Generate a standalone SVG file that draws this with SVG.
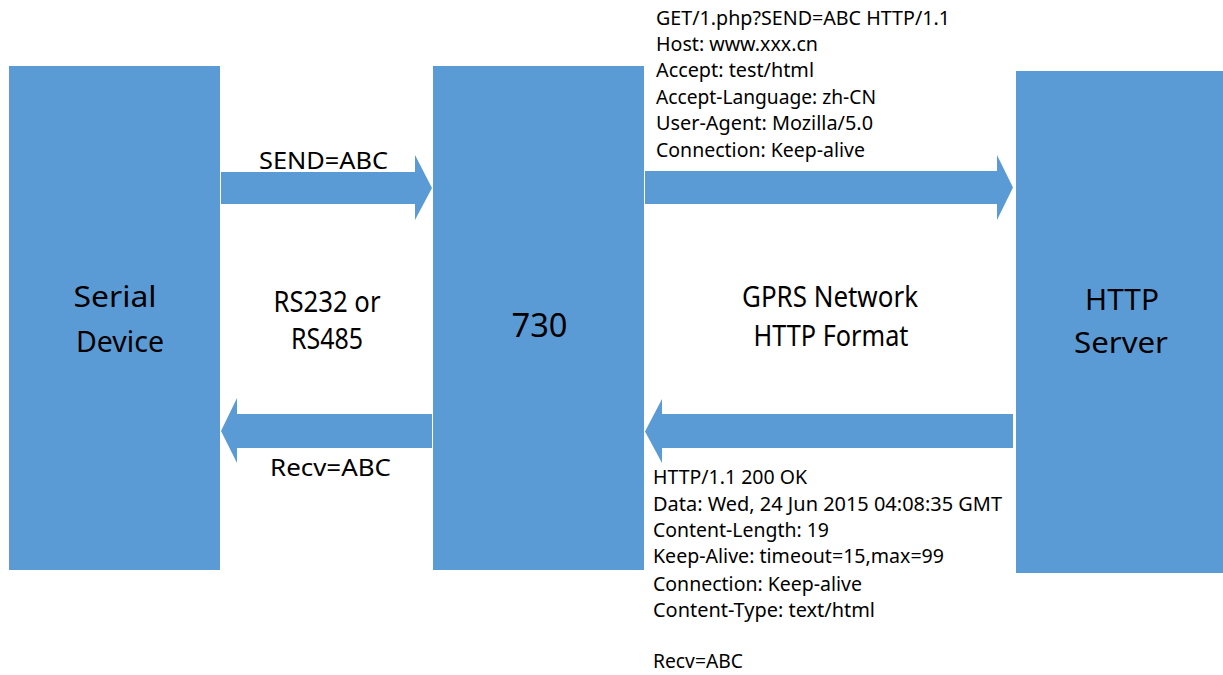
<svg xmlns="http://www.w3.org/2000/svg" width="1223" height="675" viewBox="0 0 1223 675">
<style>
.box{fill:#5B9BD5;}
.arr{fill:#5B9BD5;}
text{font-family:"Noto Sans","Open Sans","Liberation Sans",sans-serif;fill:#000;}
.big{font-size:29.5px;text-anchor:middle;}
.mid{font-size:23.4px;}
.sm{font-size:19.6px;}
</style>
<rect x="0" y="0" width="1223" height="675" fill="#fff"/>
<g id="serial-device">
<rect class="box" x="9" y="66" width="211" height="504"/>
<text class="big" x="115" y="307" textLength="83" lengthAdjust="spacingAndGlyphs">Serial</text>
<text class="big" x="120" y="352" textLength="88" lengthAdjust="spacingAndGlyphs">Device</text>
</g>
<g id="n730">
<rect class="box" x="433" y="66" width="211" height="504"/>
<text class="big" x="539.5" y="337" style="font-size:32.5px" textLength="56" lengthAdjust="spacingAndGlyphs">730</text>
</g>
<g id="http-server">
<rect class="box" x="1016" y="71" width="207" height="502"/>
<text class="big" x="1122" y="310" textLength="74" lengthAdjust="spacingAndGlyphs">HTTP</text>
<text class="big" x="1121" y="353" textLength="94" lengthAdjust="spacingAndGlyphs">Server</text>
</g>
<g id="connectors">
<polygon class="arr" points="221,172 415,172 415,155 432,188 415,220 415,204 221,204"/>
<polygon class="arr" points="645,171 997,171 997,155 1013,187.5 997,220 997,204 645,204"/>
<polygon class="arr" points="1013,414 662,414 662,399 645,431.5 662,463 662,448 1013,448"/>
<polygon class="arr" points="432,414 237,414 237,398 221,431 237,463 237,448 432,448"/>
</g>
<g id="labels">
<text class="mid" x="259" y="169" textLength="129" lengthAdjust="spacingAndGlyphs">SEND=ABC</text>
<text class="mid" x="270" y="476" textLength="121" lengthAdjust="spacingAndGlyphs">Recv=ABC</text>
<text class="big" x="327" y="312" textLength="107" lengthAdjust="spacingAndGlyphs">RS232 or</text>
<text class="big" x="327" y="349" textLength="72" lengthAdjust="spacingAndGlyphs">RS485</text>
<text class="big" x="830" y="307" textLength="176" lengthAdjust="spacingAndGlyphs">GPRS Network</text>
<text class="big" x="831" y="346" textLength="155" lengthAdjust="spacingAndGlyphs">HTTP Format</text>
</g>
<g id="request-text">
<text class="sm" x="656" y="25" textLength="294" lengthAdjust="spacingAndGlyphs">GET/1.php?SEND=ABC HTTP/1.1</text>
<text class="sm" x="656" y="51" textLength="162" lengthAdjust="spacingAndGlyphs">Host: www.xxx.cn</text>
<text class="sm" x="656" y="77" textLength="158" lengthAdjust="spacingAndGlyphs">Accept: test/html</text>
<text class="sm" x="656" y="104" textLength="220" lengthAdjust="spacingAndGlyphs">Accept-Language: zh-CN</text>
<text class="sm" x="656" y="130" textLength="217" lengthAdjust="spacingAndGlyphs">User-Agent: Mozilla/5.0</text>
<text class="sm" x="656" y="157" textLength="209" lengthAdjust="spacingAndGlyphs">Connection: Keep-alive</text>
</g>
<g id="response-text">
<text class="sm" x="653" y="484" textLength="154" lengthAdjust="spacingAndGlyphs">HTTP/1.1 200 OK</text>
<text class="sm" x="653" y="511" textLength="349" lengthAdjust="spacingAndGlyphs">Data: Wed, 24 Jun 2015 04:08:35 GMT</text>
<text class="sm" x="653" y="537" textLength="176" lengthAdjust="spacingAndGlyphs">Content-Length: 19</text>
<text class="sm" x="653" y="563" textLength="291" lengthAdjust="spacingAndGlyphs">Keep-Alive: timeout=15,max=99</text>
<text class="sm" x="653" y="591" textLength="209" lengthAdjust="spacingAndGlyphs">Connection: Keep-alive</text>
<text class="sm" x="653" y="617" textLength="222" lengthAdjust="spacingAndGlyphs">Content-Type: text/html</text>
<text class="sm" x="653" y="668" textLength="90" lengthAdjust="spacingAndGlyphs">Recv=ABC</text>
</g>
</svg>
